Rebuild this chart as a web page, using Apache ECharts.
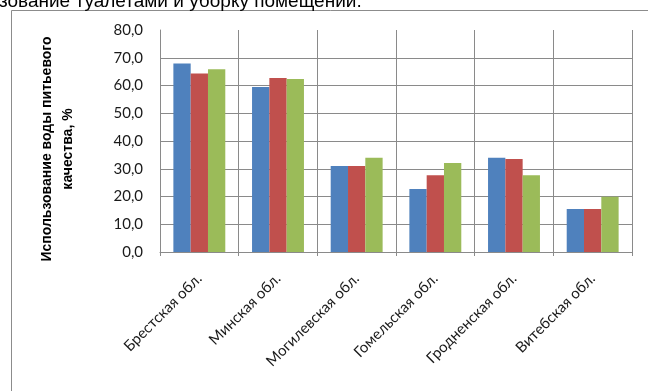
<!DOCTYPE html>
<html>
<head>
<meta charset="utf-8">
<script src="https://cdn.jsdelivr.net/npm/echarts@6/dist/echarts.min.js"></script>
<style>
  html, body { margin: 0; padding: 0; background: #fff; }
  #chart { width: 648px; height: 391px; }
</style>
</head>
<body>
<div id="chart"></div>
<script>
// Regions of Belarus
const categories = ['Брестская обл.', 'Минская обл.', 'Могилевская обл.', 'Гомельская обл.', 'Гродненская обл.', 'Витебская обл.'];
// Share of drinking-quality water use, %, three series
const seriesA = [67.9, 59.5, 31.0, 22.7, 34.0, 15.5];
const seriesB = [64.3, 62.7, 31.0, 27.7, 33.5, 15.5];
const seriesC = [65.9, 62.3, 34.0, 32.1, 27.7, 19.9];
const yTicks = { min: 0, max: 80, interval: 10 };

const colors = ['#4F81BD', '#C0504D', '#9BBB59'];
const labelFont = 'Lato, "Open Sans", sans-serif';

const chart = echarts.init(document.getElementById('chart'), null, { renderer: 'canvas' });

// horizontal grid lines: hide the one at the top value
const nLines = (yTicks.max - yTicks.min) / yTicks.interval + 1;
const hColors = [];
for (let i = 0; i < nLines; i++) hColors.push(i === nLines - 1 ? 'rgba(0,0,0,0)' : '#8a8a8a');

const bar = (data, i) => ({
  type: 'bar',
  data: data,
  barGap: '0%',
  barCategoryGap: '34%',
  itemStyle: { color: colors[i] },
  animation: false
});

chart.setOption({
  animation: false,
  grid: { left: 160, right: 16, top: 30, bottom: 139, containLabel: false },
  graphic: [
    {
      type: 'rect',
      shape: { x: 11.5, y: 10.5, width: 700, height: 500 },
      style: { fill: 'none', stroke: '#8c8c8c', lineWidth: 1 },
      z: 0
    },
    {
      type: 'text',
      x: -1,
      y: 1.5,
      style: {
        text: 'зование туалетами и уборку помещений.',
        font: '19px "Liberation Sans", Arial, sans-serif',
        fill: '#000',
        verticalAlign: 'middle'
      }
    },
    {
      type: 'text',
      x: 57.5,
      y: 149,
      rotation: Math.PI / 2,
      style: {
        text: 'Использование воды питьевого\nкачества, %',
        font: 'bold 14px "Liberation Sans", Arial, sans-serif',
        fill: '#000',
        align: 'center',
        verticalAlign: 'middle',
        lineHeight: 21
      }
    }
  ],
  xAxis: {
    type: 'category',
    data: categories,
    axisLine: { show: true, lineStyle: { color: '#8a8a8a', width: 1 } },
    axisTick: { show: true, length: 4, alignWithLabel: false, lineStyle: { color: '#8a8a8a' } },
    splitLine: { show: true, interval: 0, lineStyle: { color: '#8a8a8a', width: 1 } },
    axisLabel: {
      interval: 0,
      rotate: 45,
      margin: 24,
      color: '#1a1a1a',
      fontFamily: labelFont,
      fontSize: 15
    }
  },
  yAxis: {
    type: 'value',
    min: yTicks.min,
    max: yTicks.max,
    interval: yTicks.interval,
    axisLine: { show: true, lineStyle: { color: '#8a8a8a', width: 1 } },
    axisTick: { show: false },
    splitLine: { show: true, lineStyle: { color: hColors, width: 1 } },
    axisLabel: {
      margin: 17,
      color: '#1a1a1a',
      fontFamily: labelFont,
      fontSize: 15,
      formatter: v => v.toFixed(1).replace('.', ',')
    }
  },
  series: [bar(seriesA, 0), bar(seriesB, 1), bar(seriesC, 2)]
});
</script>
</body>
</html>
